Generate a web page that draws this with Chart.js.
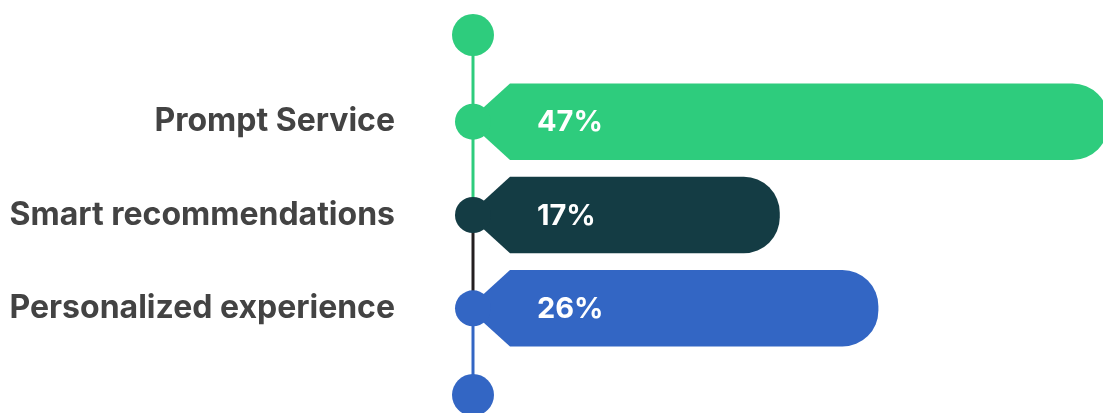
<!DOCTYPE html>
<html>
<head>
<meta charset="utf-8">
<script src="https://cdn.jsdelivr.net/npm/chart.js@4"></script>
<style>
  html, body { margin: 0; padding: 0; background: #ffffff; }
  #wrap { width: 1103px; height: 413px; position: relative; }
</style>
</head>
<body>
<div id="wrap"><canvas id="c"></canvas></div>
<script>
// Survey answers, one bar per category
const categories = ['Prompt Service', 'Smart recommendations', 'Personalized experience'];
const shares = [47, 17, 26];
const valueLabels = ['47%', '17%', '26%'];
const barColors = ['#2ecc7d', '#143c44', '#3366c4'];
// Colour of the stem below each marker (top cap uses the first colour)
const stemColors = ['#2ecc7d', '#231f20', '#3366c4'];

const FONT = 'Inter, Lato, sans-serif';

// Draws each bar as a tag: round knob on the stem, angled shoulder, rounded end
const tagBars = {
  id: 'tagBars',
  beforeDatasetDraw() { return false; },
  afterDatasetsDraw(chart) {
    const ctx = chart.ctx;
    const area = chart.chartArea;
    const meta = chart.getDatasetMeta(0);
    const els = meta.data;
    const stemX = area.left;
    const capTop = area.top - 40;
    const capBottom = area.bottom + 40;

    ctx.save();
    // stem segments
    ctx.lineWidth = 3;
    const ys = [capTop].concat(els.map(e => e.y)).concat([capBottom]);
    const segCols = [stemColors[0]].concat(stemColors);
    for (let i = 0; i < ys.length - 1; i++) {
      ctx.strokeStyle = segCols[i];
      ctx.beginPath();
      ctx.moveTo(stemX, ys[i]);
      ctx.lineTo(stemX, ys[i + 1]);
      ctx.stroke();
    }
    // end caps
    ctx.fillStyle = barColors[0];
    ctx.beginPath(); ctx.arc(stemX, capTop, 21, 0, Math.PI * 2); ctx.fill();
    ctx.fillStyle = barColors[barColors.length - 1];
    ctx.beginPath(); ctx.arc(stemX, capBottom, 21, 0, Math.PI * 2); ctx.fill();

    els.forEach((el, i) => {
      const h = el.height;
      const top = el.y - h / 2;
      const bot = el.y + h / 2;
      const left = el.base;
      const right = el.x;
      const shoulder = left + 37;
      const r = Math.min(36, h / 2);
      const tip = h / 2 - 37 * 0.91;
      ctx.fillStyle = barColors[i];
      ctx.beginPath();
      ctx.moveTo(shoulder, top);
      ctx.lineTo(right - r, top);
      ctx.arcTo(right, top, right, top + r, r);
      ctx.lineTo(right, bot - r);
      ctx.arcTo(right, bot, right - r, bot, r);
      ctx.lineTo(shoulder, bot);
      ctx.lineTo(left, el.y + tip);
      ctx.lineTo(left, el.y - tip);
      ctx.closePath();
      ctx.fill();
      ctx.beginPath();
      ctx.arc(left, el.y, 18, 0, Math.PI * 2);
      ctx.fill();

      ctx.fillStyle = '#ffffff';
      ctx.font = 'bold 29px ' + FONT;
      ctx.textAlign = 'left';
      ctx.textBaseline = 'middle';
      ctx.fillText(valueLabels[i], left + 64, el.y + 1);
    });
    ctx.restore();
  }
};

const X_MIN = -11;
const X_MAX = 46.5;

new Chart(document.getElementById('c'), {
  type: 'bar',
  data: {
    labels: categories,
    datasets: [{
      data: shares,
      base: X_MIN,
      backgroundColor: barColors,
      barPercentage: 0.82,
      categoryPercentage: 1
    }]
  },
  options: {
    indexAxis: 'y',
    responsive: true,
    maintainAspectRatio: false,
    animation: false,
    layout: { padding: { top: 75, bottom: 58, left: 0, right: 0 } },
    plugins: { legend: { display: false }, tooltip: { enabled: false } },
    scales: {
      x: { display: false, min: X_MIN, max: X_MAX },
      y: {
        grid: { display: false, drawTicks: false },
        border: { display: false },
        ticks: {
          padding: 78,
          color: '#434343',
          font: { family: FONT, size: 32, weight: 'bold' }
        },
        afterFit(scale) {
          scale.width = 473;
          scale.paddingTop = 0;
          scale.paddingBottom = 0;
        }
      }
    }
  },
  plugins: [tagBars]
});
</script>
</body>
</html>
